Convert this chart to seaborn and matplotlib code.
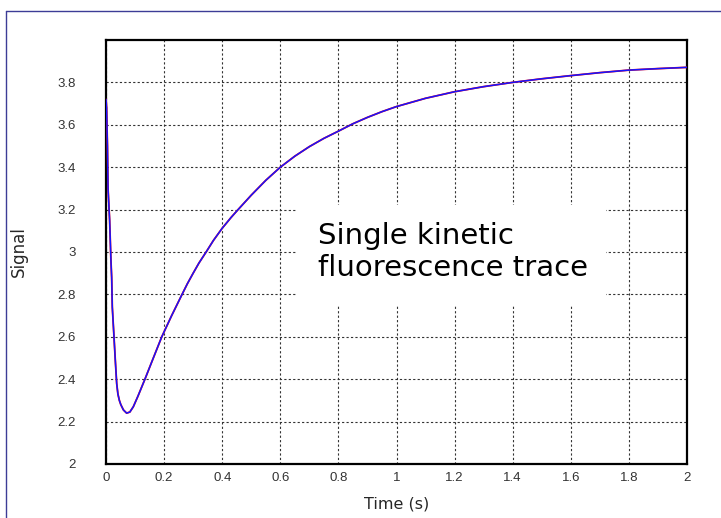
import matplotlib
matplotlib.use("Agg")
import matplotlib.pyplot as plt
import seaborn as sns
import pandas as pd
from matplotlib.patches import Rectangle

# ---- data ----
time_s = [0, 0.002, 0.003, 0.005, 0.007, 0.0125, 0.017, 0.0195, 0.0217, 0.0275,
          0.032, 0.0368, 0.041, 0.046, 0.051, 0.06, 0.071, 0.082, 0.094, 0.11,
          0.134, 0.16, 0.192, 0.226, 0.26, 0.28, 0.3, 0.32, 0.347, 0.37,
          0.4, 0.43, 0.452, 0.5, 0.55, 0.6, 0.65, 0.7, 0.75, 0.8,
          0.85, 0.9, 0.95, 1.0, 1.1, 1.2, 1.3,
          1.4, 1.5, 1.6, 1.7, 1.8, 1.9, 2.0]
signal = [3.72, 3.68, 3.62, 3.50, 3.30, 3.15, 2.96, 2.88, 2.74, 2.60,
          2.49, 2.38, 2.33, 2.30, 2.28, 2.255, 2.24, 2.245, 2.27, 2.32,
          2.40, 2.49, 2.60, 2.70, 2.795, 2.850, 2.900, 2.948, 3.005, 3.055,
          3.112, 3.162, 3.196, 3.268, 3.338, 3.40, 3.452, 3.497, 3.536, 3.570,
          3.605, 3.635, 3.662, 3.686, 3.725, 3.756, 3.78,
          3.80, 3.817, 3.832, 3.846, 3.858, 3.865, 3.871]
x_ticks = [0, 0.2, 0.4, 0.6, 0.8, 1, 1.2, 1.4, 1.6, 1.8, 2]
x_tick_labels = ["0", "0.2", "0.4", "0.6", "0.8", "1", "1.2", "1.4", "1.6", "1.8", "2"]
y_ticks = [2, 2.2, 2.4, 2.6, 2.8, 3, 3.2, 3.4, 3.6, 3.8]
y_tick_labels = ["2", "2.2", "2.4", "2.6", "2.8", "3", "3.2", "3.4", "3.6", "3.8"]
annotation = "Single kinetic\nfluorescence trace"

df = pd.DataFrame({"Time": time_s, "Signal": signal})

sns.set_style("white")
plt.rcParams["font.family"] = ["DejaVu Sans"]

fig = plt.figure(figsize=(7.21, 5.18), dpi=100)
ax = fig.add_axes([106 / 721, 1 - 464 / 518, (687 - 106) / 721, (464 - 40) / 518])

# outer frame lines (top and left only visible)
fig.add_artist(plt.Line2D([5.5 / 721, 5.5 / 721], [0, 1 - 11 / 518],
                          transform=fig.transFigure, color="#3c3c96", lw=1.0))
fig.add_artist(plt.Line2D([5.5 / 721, 1], [1 - 11 / 518, 1 - 11 / 518],
                          transform=fig.transFigure, color="#3c3c96", lw=1.0))

sns.lineplot(data=df, x="Time", y="Signal", ax=ax, color="#ff0000", lw=1.3, zorder=3)
sns.lineplot(data=df, x="Time", y="Signal", ax=ax, color="#1414ff", lw=1.1, zorder=4)

ax.set_xlim(0, 2)
ax.set_ylim(2, 4)
ax.set_xticks(x_ticks)
ax.set_xticklabels(x_tick_labels)
ax.set_yticks(y_ticks)
ax.set_yticklabels(y_tick_labels)

ax.grid(True, linestyle=(0, (2, 2)), color="#333333", lw=0.8)
ax.set_axisbelow(True)

for s in ax.spines.values():
    s.set_visible(True)
    s.set_color("black")
    s.set_linewidth(1.6)

ax.tick_params(axis="y", direction="in", length=3, width=1, pad=22,
               labelsize=9.5, labelcolor="#333333")
ax.tick_params(axis="x", direction="in", length=0, pad=6,
               labelsize=9.5, labelcolor="#333333")
for lab in ax.get_xticklabels() + ax.get_yticklabels():
    lab.set_family("Liberation Sans")

ax.set_xlabel("Time (s)", family="DejaVu Sans", fontsize=11.5, labelpad=9)
ax.set_ylabel("Signal", family="DejaVu Sans", fontsize=12, labelpad=21)

# white label box
ax.add_patch(Rectangle((0.657, 2.75), 1.064, 0.472, facecolor="white",
                       edgecolor="none", zorder=2))
ax.text(0.73, 3.0, annotation, fontsize=21, family="DejaVu Sans",
        ha="left", va="center", color="black", linespacing=1.2, zorder=5)

fig.savefig("out.png", dpi=100)
